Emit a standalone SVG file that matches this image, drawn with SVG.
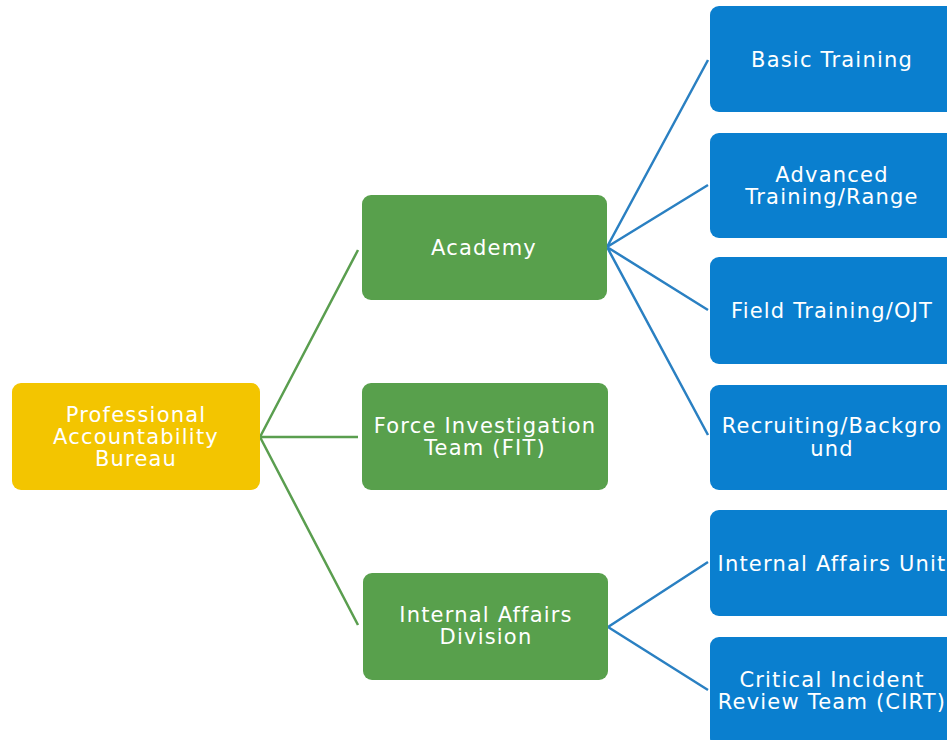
<svg xmlns="http://www.w3.org/2000/svg" width="947" height="740" viewBox="0 0 947 740">
<style>
.t{font-family:"DejaVu Sans","Verdana",sans-serif;font-size:21px;fill:#ffffff;text-anchor:middle;letter-spacing:1.2px}
.y{fill:#f3c500}
.g{fill:#58a04c}
.b{fill:#0a7fcf}
.cg{stroke:#5a9e4f;stroke-width:2.5;fill:none}
.cb{stroke:#2a80c2;stroke-width:2.5;fill:none}
</style>
<rect width="947" height="740" fill="#ffffff"/>
<g id="connectors">
<path class="cg" d="M260,437 L358,250 M260,437 L358,437 M260,437 L358,625"/>
<path class="cb" d="M607,247 L708,60 M607,247 L708,185 M607,247 L708,310 M607,247 L708,435"/>
<path class="cb" d="M608,627 L708,562 M608,627 L708,690"/>
</g>
<g id="pab"><rect class="y" x="12" y="383" width="248" height="107" rx="9"/>
<text class="t" x="136" y="422">Professional</text><text class="t" x="136" y="444">Accountability</text><text class="t" x="136" y="466">Bureau</text></g>
<g id="academy"><rect class="g" x="362" y="195" width="245" height="105" rx="9"/>
<text class="t" x="484" y="255">Academy</text></g>
<g id="fit"><rect class="g" x="362" y="383" width="246" height="107" rx="9"/>
<text class="t" x="485" y="433">Force Investigation</text><text class="t" x="485" y="455">Team (FIT)</text></g>
<g id="iad"><rect class="g" x="363" y="573" width="245" height="107" rx="9"/>
<text class="t" x="486" y="622">Internal Affairs</text><text class="t" x="486" y="644">Division</text></g>
<g id="basic"><rect class="b" x="710" y="6" width="246" height="106" rx="9"/>
<text class="t" x="832" y="67">Basic Training</text></g>
<g id="advanced"><rect class="b" x="710" y="133" width="246" height="105" rx="9"/>
<text class="t" x="832" y="182">Advanced</text><text class="t" x="832" y="204">Training/Range</text></g>
<g id="field"><rect class="b" x="710" y="257" width="246" height="107" rx="9"/>
<text class="t" x="832" y="318">Field Training/OJT</text></g>
<g id="recruiting"><rect class="b" x="710" y="385" width="246" height="105" rx="9"/>
<text class="t" x="832" y="433">Recruiting/Backgro</text><text class="t" x="832" y="456">und</text></g>
<g id="iau"><rect class="b" x="710" y="510" width="246" height="106" rx="9"/>
<text class="t" x="832" y="571">Internal Affairs Unit</text></g>
<g id="cirt"><rect class="b" x="710" y="637" width="246" height="110" rx="9"/>
<text class="t" x="832" y="687">Critical Incident</text><text class="t" x="832" y="709">Review Team (CIRT)</text></g>
</svg>
